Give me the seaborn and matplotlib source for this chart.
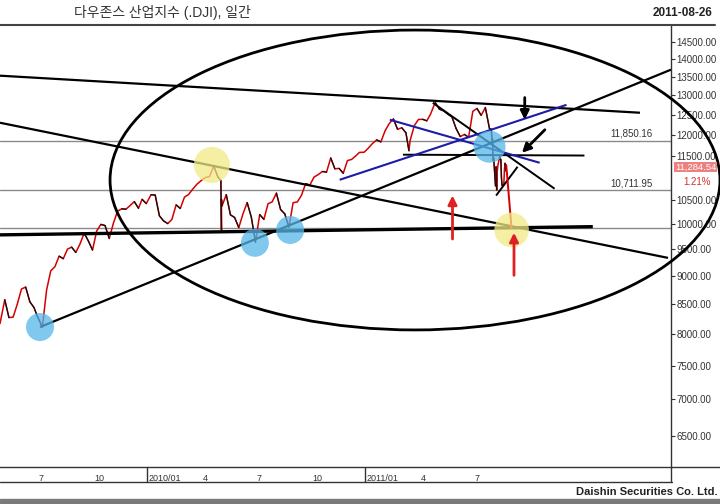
import pandas as pd
import matplotlib.pyplot as plt
import matplotlib.transforms as mtransforms
from matplotlib.patches import Ellipse, Rectangle
from matplotlib.lines import Line2D
from matplotlib.ticker import FixedLocator, NullLocator
import seaborn as sns

sns.set_style("white")
plt.rcParams['font.family'] = ['Liberation Sans', 'Noto Sans CJK KR']

# --- DJI closes (weekly, daily around May 2010 / Aug 2011) ---
dates = [
    "2009-04-30", "2009-05-08", "2009-05-15", "2009-05-22", "2009-05-29", "2009-06-05",
    "2009-06-12", "2009-06-19", "2009-06-26", "2009-07-02", "2009-07-10", "2009-07-17",
    "2009-07-24", "2009-07-31", "2009-08-07", "2009-08-14", "2009-08-21", "2009-08-28",
    "2009-09-04", "2009-09-11", "2009-09-18", "2009-09-25", "2009-10-02", "2009-10-09",
    "2009-10-16", "2009-10-23", "2009-10-30", "2009-11-06", "2009-11-13", "2009-11-20",
    "2009-11-27", "2009-12-04", "2009-12-11", "2009-12-18", "2009-12-24", "2009-12-31",
    "2010-01-08", "2010-01-15", "2010-01-22", "2010-01-29", "2010-02-05", "2010-02-12",
    "2010-02-19", "2010-02-26", "2010-03-05", "2010-03-12", "2010-03-19", "2010-03-26",
    "2010-04-02", "2010-04-09", "2010-04-16", "2010-04-23", "2010-04-30", "2010-05-05",
    "2010-05-06", "2010-05-06", "2010-05-07", "2010-05-14", "2010-05-21", "2010-05-28",
    "2010-06-04", "2010-06-11", "2010-06-18", "2010-06-25", "2010-07-02", "2010-07-09",
    "2010-07-16", "2010-07-23", "2010-07-30", "2010-08-06", "2010-08-13", "2010-08-20",
    "2010-08-27", "2010-09-03", "2010-09-10", "2010-09-17", "2010-09-24", "2010-10-01",
    "2010-10-08", "2010-10-15", "2010-10-22", "2010-10-29", "2010-11-05", "2010-11-12",
    "2010-11-19", "2010-11-26", "2010-12-03", "2010-12-10", "2010-12-17", "2010-12-23",
    "2010-12-31", "2011-01-07", "2011-01-14", "2011-01-21", "2011-01-28", "2011-02-04",
    "2011-02-11", "2011-02-18", "2011-02-25", "2011-03-04", "2011-03-11", "2011-03-16",
    "2011-03-18", "2011-03-25", "2011-04-01", "2011-04-08", "2011-04-15", "2011-04-21",
    "2011-04-29", "2011-05-06", "2011-05-13", "2011-05-20", "2011-05-27", "2011-06-03",
    "2011-06-10", "2011-06-17", "2011-06-24", "2011-07-01", "2011-07-08", "2011-07-15",
    "2011-07-22", "2011-07-29", "2011-08-01", "2011-08-02", "2011-08-03", "2011-08-04",
    "2011-08-05", "2011-08-08", "2011-08-09", "2011-08-10", "2011-08-11", "2011-08-12",
    "2011-08-15", "2011-08-16", "2011-08-17", "2011-08-18", "2011-08-19", "2011-08-22",
    "2011-08-23", "2011-08-24", "2011-08-25", "2011-08-26",
]
closes = [
    8168, 8575, 8268, 8277, 8500, 8764,
    8799, 8539, 8438, 8280, 8110, 8743,
    9093, 9171, 9370, 9321, 9505, 9544,
    9441, 9605, 9820, 9665, 9487, 9865,
    9996, 9972, 9713, 10023, 10270, 10318,
    10310, 10388, 10471, 10329, 10520, 10428,
    10618, 10610, 10173, 10067, 10012, 10099,
    10402, 10325, 10566, 10625, 10742, 10850,
    10927, 10997, 11019, 11258, 11009, 10926,
    9870, 10520, 10380, 10620, 10193, 10137,
    9931, 10212, 10450, 10144, 9640, 10198,
    10098, 10425, 10466, 10654, 10303, 10213,
    9940, 10448, 10462, 10607, 10860, 10829,
    11006, 11062, 11133, 11118, 11444, 11192,
    11203, 11092, 11382, 11410, 11491, 11573,
    11578, 11675, 11787, 11872, 11824, 12092,
    12273, 12391, 12130, 12170, 12044, 11613,
    11859, 12221, 12377, 12380, 12342, 12505,
    12811, 12638, 12596, 12512, 12441, 12151,
    11952, 12004, 11934, 12582, 12657, 12480,
    12681, 12143, 12132, 11867, 11896, 11384,
    11445, 10810, 11240, 10720, 11144, 11269,
    11482, 11406, 11411, 10991, 10818, 10855,
    11177, 11320, 11150, 11285,
]

last_price = "11,284.54"
last_change = "1.21%"
levels = [11850.16, 10711.95]
level_labels = ["11,850.16", "10,711.95"]
support_level = 9930

ytick_vals = [6500, 7000, 7500, 8000, 8500, 9000, 9500, 10000, 10500,
              11500, 12000, 12500, 13000, 13500, 14000, 14500]
xtick_dates = ["2009-07-01", "2009-10-01", "2010-01-01", "2010-04-01", "2010-07-01",
               "2010-10-01", "2011-01-01", "2011-04-01", "2011-07-01"]
xtick_labels = ["7", "10", "2010/01", "4", "7", "10", "2011/01", "4", "7"]

# hand-drawn analysis marks: (start date, start value, end date, end value, color, width)
trend_lines = [
    ("2009-04-30", 13530, "2012-04-06", 12547, "black", 1.6),
    ("2009-04-30", 12294, "2012-05-23", 9337, "black", 1.6),
    ("2009-07-06", 8111, "2012-05-28", 13697, "black", 1.6),
    ("2009-04-30", 9785, "2012-01-18", 9950, "black", 2.4),
    ("2011-03-06", 11520, "2012-01-04", 11500, "black", 1.4),
    ("2011-04-25", 12804, "2011-11-15", 10749, "black", 1.4),
    ("2011-08-09", 10600, "2011-09-14", 11240, "black", 1.4),
    ("2010-11-20", 10946, "2011-12-05", 12751, "#1c1ca8", 1.5),
    ("2011-02-12", 12369, "2011-10-21", 11332, "#1c1ca8", 1.5),
    ("2011-08-26", 11285, "2011-09-04", 9900, "#d40000", 1.4),
]
circles = [
    ("2010-04-20", 11283, "#f2ea86", 672),
    ("2011-09-04", 9883, "#f2ea86", 620),
    ("2009-07-06", 8111, "#55b6e8", 406),
    ("2010-07-01", 9628, "#55b6e8", 406),
    ("2010-08-29", 9883, "#55b6e8", 406),
    ("2011-07-29", 11709, "#55b6e8", 531),
]
arrows = [  # tail -> tip
    ("2011-05-28", 9648, "2011-05-28", 10662, "#e02020"),
    ("2011-09-08", 8961, "2011-09-08", 9883, "#e02020"),
    ("2011-09-26", 13014, "2011-09-26", 12300, "black"),
    ("2011-11-02", 12168, "2011-09-18", 11518, "black"),
]

df = pd.DataFrame({"date": pd.to_datetime(dates), "close": closes})

fig = plt.figure(figsize=(7.2, 5.04), dpi=100)
ax = fig.add_axes([0, 37 / 504, 671 / 720, 441 / 504])

sns.lineplot(data=df, x="date", y="close", ax=ax, color="#d40000", lw=1.1,
             estimator=None, sort=False, zorder=3)
# down moves drawn in black like the down bars of the original
for i in range(1, len(df)):
    if df.close[i] < df.close[i - 1]:
        ax.plot(df.date[i - 1:i + 1], df.close[i - 1:i + 1], color="#111111", lw=0.9, zorder=3)

ax.set_yscale("log")
ax.set_ylim(6100, 14970)
ax.set_xlim(pd.Timestamp("2009-04-30"), pd.Timestamp("2012-05-28"))
ax.yaxis.set_major_locator(FixedLocator(ytick_vals))
ax.yaxis.set_minor_locator(NullLocator())
ax.yaxis.set_major_formatter(lambda v, p: f"{v:.2f}")
ax.yaxis.tick_right()
ax.tick_params(axis="y", direction="out", length=3, labelsize=7, colors="#333333", pad=1)
ax.set_xticks(pd.to_datetime(xtick_dates))
ax.set_xticklabels(xtick_labels, ha="left")
ax.xaxis.set_minor_locator(NullLocator())
ax.tick_params(axis="x", direction="out", length=4, labelsize=6.5, colors="#333333", pad=1)
off = mtransforms.ScaledTranslation(2 / 100, 0, fig.dpi_scale_trans)
for lbl in ax.get_xticklabels():
    lbl.set_transform(lbl.get_transform() + off)
ax.set_xlabel("")
ax.set_ylabel("")
for s in ["left", "top"]:
    ax.spines[s].set_visible(False)
for s in ["right", "bottom"]:
    ax.spines[s].set_color("#333333")
    ax.spines[s].set_linewidth(1)

# horizontal reference levels
for lv, lab in zip(levels, level_labels):
    ax.axhline(lv, color="#8a8a8a", lw=1, zorder=1)
    ax.text(0.972, lv * 1.004, lab, transform=ax.get_yaxis_transform(), ha="right",
            va="bottom", fontsize=7, color="#333333")
ax.axhline(support_level, color="#8a8a8a", lw=1, zorder=1)

for d0, v0, d1, v1, c, w in trend_lines:
    ax.plot(pd.to_datetime([d0, d1]), [v0, v1], color=c, lw=w, zorder=4,
            solid_capstyle="butt")

for d, v, c, s in circles:
    ax.scatter(pd.to_datetime([d]), [v], s=s, color=c, alpha=0.75, edgecolors="none", zorder=6)

for d0, v0, d1, v1, c in arrows:
    ax.annotate("", xy=(pd.Timestamp(d1), v1), xytext=(pd.Timestamp(d0), v0),
                arrowprops=dict(arrowstyle="-|>", color=c, lw=2, mutation_scale=13),
                zorder=7)

ax.add_patch(Ellipse((0.6185, 0.6508), 0.909, 0.680, transform=ax.transAxes,
                     fill=False, ec="black", lw=2, clip_on=False, zorder=5))

# last price tag
ytr = mtransforms.blended_transform_factory(ax.transAxes, ax.transData)
ax.text(1.006, 11225, last_price, transform=ytr, ha="left", va="center", fontsize=6.8,
        color="white", bbox=dict(boxstyle="square,pad=0.06", fc="#ee8080", ec="none"),
        zorder=8, clip_on=False)
ax.text(1.039, 10900, last_change, transform=ytr, ha="center", va="center", fontsize=7,
        color="#d03030", clip_on=False)

# year separators under the axis
xtr = mtransforms.blended_transform_factory(ax.transData, ax.transAxes)
for d in ["2010-01-01", "2011-01-01"]:
    ax.plot([pd.Timestamp(d)] * 2, [0, -15 / 441], transform=xtr, color="#333333",
            lw=1, clip_on=False)

# frame pieces of the chart window
fy = lambda y: 1 - y / 504
fig.add_artist(Line2D([0, 715 / 720], [fy(25)] * 2, color="#444444", lw=1.5))
fig.add_artist(Line2D([0, 672 / 720], [fy(482)] * 2, color="#333333", lw=1))
fig.add_artist(Line2D([671 / 720, 1], [fy(467)] * 2, color="#333333", lw=1))
fig.add_artist(Line2D([671 / 720] * 2, [fy(467), fy(482)], color="#333333", lw=1))
fig.add_artist(Rectangle((0, 0), 1, 5 / 504, transform=fig.transFigure, color="#7a7a7a"))

fig.text(74 / 720, fy(13), "다우존스 산업지수 (.DJI), 일간", fontsize=10, color="#333333",
         va="center")
fig.text(712 / 720, fy(13), "2011-08-26", ha="right", va="center", fontsize=8.5,
         weight="bold", color="#222222")
fig.text(718 / 720, fy(492), "Daishin Securities Co. Ltd.", ha="right", va="center",
         fontsize=8, weight="bold", color="#222222")

fig.savefig("out.png", dpi=100)
